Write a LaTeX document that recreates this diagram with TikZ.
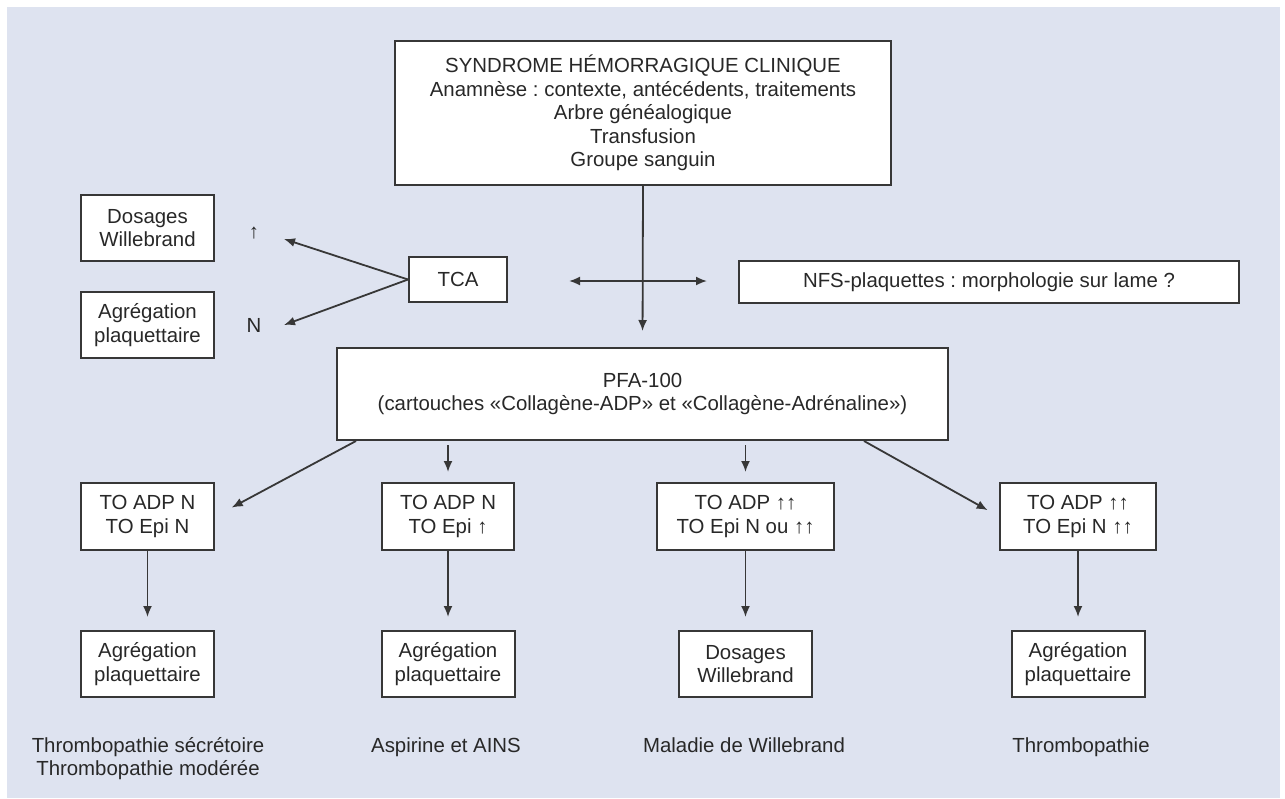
\documentclass[tikz,border=0pt]{standalone}
\usepackage{fontspec}
\setmainfont{Liberation Sans}
\usepackage{tikz}
\usetikzlibrary{calc,arrows.meta}
\definecolor{bgblue}{RGB}{222,227,240}
\definecolor{linegray}{RGB}{55,55,55}
\definecolor{textgray}{RGB}{40,40,40}
\newcommand{\fsize}{\fontsize{10.2}{11.75}\selectfont}
\frenchspacing

\begin{document}
\begin{tikzpicture}[x=0.5pt,y=-0.5pt,
		box/.style={draw=linegray,line width=1pt,fill=white,align=center,inner sep=0pt,text=textgray,font=\fsize},
		wh/.style 2 args={minimum width={#1*0.5pt},minimum height={#2*0.5pt}},
		lbl/.style={align=center,inner sep=0pt,text=textgray,font=\fsize},
		tip/.tip={Latex[length=5.5pt,width=4.5pt]},
		conn/.style={draw=linegray,line width=0.9pt,-tip}]
	\useasboundingbox (0,0) rectangle (1285,798);
	\fill[bgblue] (7,7) rectangle (1280,798);
	
	%top
	\node[box,wh={496}{144}] (syn) at (643,113) {SYNDROME HÉMORRAGIQUE CLINIQUE\\Anamnèse : contexte, antécédents, traitements\\Arbre généalogique\\Transfusion\\Groupe sanguin};
	
	%tca and left side
	\node[box,wh={133}{66}] (dos1) at (147.5,228) {Dosages\\Willebrand};
	\node[box,wh={133}{66}] (agr0) at (147.5,325) {Agrégation\\plaquettaire};
	\node[lbl] (up) at (254,233) {↑};
	\node[lbl] (nn) at (254,325) {N};
	\node[box,wh={98}{45}] (tca) at (458,279.5) {TCA};
	\coordinate (tu) at (284,239);
	\coordinate (tn) at (284,325);
	\draw[conn] (tca.west) -- (tu);
	\draw[conn] (tca.west) -- (tn);
	
	\node[box,wh={500}{42}] (nfs) at (989,282) {NFS-plaquettes : morphologie sur lame ?};
	
	%pfa
	\node[box,wh={611}{92}] (pfa) at (642.5,394) {PFA-100\\(cartouches «Collagène-ADP» et «Collagène-Adrénaline»)};
	\draw[conn,shorten >=8pt] (syn.south) -- (pfa.north);
	\coordinate (hl) at (569,281);
	\coordinate (hr) at (707,281);
	\draw[conn,tip-tip] (hl) -- (hr);
	
	%second row
	\node[box,wh={133}{67}] (to1) at (147.5,516.5) {TO ADP N\\TO Epi N};
	\node[box,wh={132}{67}] (to2) at (448,516.5) {TO ADP N\\TO Epi ↑};
	\node[box,wh={177}{67}] (to3) at (745.5,516.5) {TO ADP ↑↑\\TO Epi N ou ↑↑};
	\node[box,wh={156}{67}] (to4) at (1078,516.5) {TO ADP ↑↑\\TO Epi N ↑↑};
	\draw[conn,shorten >=9.5pt] ($(pfa.south west)+(20,0)$) -- (to1.east);
	\draw[conn,shorten >=6.5pt] ($(pfa.south east)+(-85,0)$) -- (to4.west);
	\draw[conn,shorten <=2pt,shorten >=5pt] (pfa.south -| to2.north) -- (to2.north);
	\draw[conn,shorten <=2pt,shorten >=5pt] (pfa.south -| to3.north) -- (to3.north);
	
	%third row
	\node[box,wh={133}{66}] (ag1) at (147.5,664) {Agrégation\\plaquettaire};
	\node[box,wh={133}{66}] (ag2) at (448,664) {Agrégation\\plaquettaire};
	\node[box,wh={133}{66}] (dos2) at (745.5,664) {Dosages\\Willebrand};
	\node[box,wh={133}{66}] (ag4) at (1078,664) {Agrégation\\plaquettaire};
	\foreach \a/\b in {to1/ag1,to2/ag2,to3/dos2,to4/ag4}
		\draw[conn,shorten >=6.5pt] (\a.south) -- (\b.north);
	
	%conclusions
	\node[lbl,anchor=north] (lab1) at (148,737) {Thrombopathie sécrétoire\\Thrombopathie modérée};
	\node[lbl,anchor=north] (lab2) at (446,737) {Aspirine et AINS};
	\node[lbl,anchor=north] (lab3) at (744,737) {Maladie de Willebrand};
	\node[lbl,anchor=north] (lab4) at (1081,737) {Thrombopathie};
\end{tikzpicture}
\end{document}
